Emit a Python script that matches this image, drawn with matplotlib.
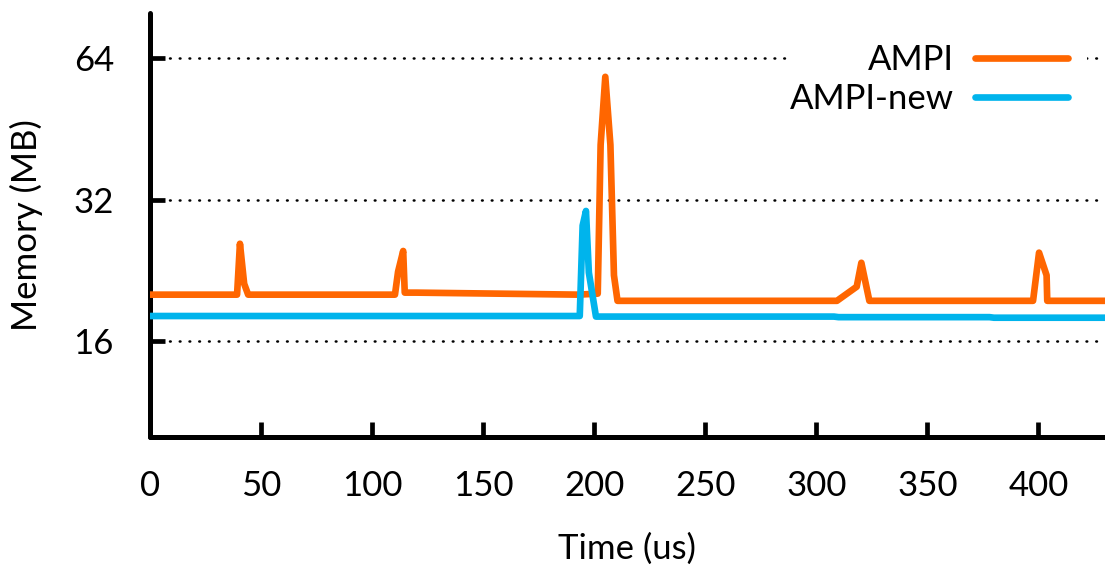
import matplotlib
matplotlib.use("Agg")
import matplotlib.pyplot as plt
from matplotlib.patches import Rectangle

plt.rcParams['font.family'] = ['Lato', 'DejaVu Sans']

# Data
t_ampi = [0, 39.2, 40.5, 42.4, 44.2, 110.3, 111.7, 114.0, 114.7, 120, 193, 201.6, 202.9,
          205.0, 207.3, 208.9, 210.5, 309.3, 318.2, 320.3, 323.9, 397.6, 400.3, 403.7, 404.0, 430]
m_ampi = [20.1, 20.1, 25.8, 21.2, 20.1, 20.1, 22.5, 24.9, 20.3, 20.3, 20.1, 20.2, 41.9,
          58.5, 41.9, 22.1, 19.5, 19.5, 20.9, 23.5, 19.5, 19.5, 24.7, 22.1, 19.5, 19.5]

t_new = [0, 193.5, 194.8, 196.3, 197.6, 200.8, 308, 310, 378, 380, 430]
m_new = [18.1, 18.1, 28.2, 30.3, 22.4, 18.05, 18.05, 18.0, 18.0, 17.95, 17.95]

x_ticks = [0, 50, 100, 150, 200, 250, 300, 350, 400]
y_ticks = [16, 32, 64]
y_ticklabels = ['16', '32', '64']

c_ampi = '#FF6600'
c_new = '#00B4EC'

fig = plt.figure(figsize=(11.05, 5.75), dpi=100)
ax = fig.add_axes([150 / 1105, 138 / 575, 955 / 1105, 424 / 575])

ax.plot(t_ampi, m_ampi, color=c_ampi, lw=4.8, label='AMPI',
        solid_joinstyle='round', solid_capstyle='round', zorder=3)
ax.plot(t_new, m_new, color=c_new, lw=4.8, label='AMPI-new',
        solid_joinstyle='round', solid_capstyle='round', zorder=3)

ax.set_yscale('log', base=2)
ax.set_ylim(10, 80)
ax.set_xlim(0, 430)
ax.set_yticks(y_ticks)
ax.set_yticklabels(y_ticklabels)
ax.minorticks_off()
ax.set_xticks(x_ticks)

ax.grid(axis='y', color='black', linestyle=(0, (0.3, 3.6)), lw=1.8,
        dash_capstyle='round')
ax.set_axisbelow(True)

# white legend background box (hides the grid line behind the key)
ax.add_patch(Rectangle((0.672, 0.748), 0.309, 0.2, transform=ax.transAxes,
                       facecolor='white', edgecolor='none', zorder=1.8))

for s in ['top', 'right']:
    ax.spines[s].set_visible(False)
for s in ['left', 'bottom']:
    ax.spines[s].set_linewidth(3.6)
    ax.spines[s].set_capstyle('round')

ax.tick_params(axis='both', direction='in', length=11, width=3.4, labelsize=25)
ax.tick_params(axis='x', pad=24)
ax.tick_params(axis='y', pad=26)

ax.set_xlabel('Time (us)', fontsize=25, labelpad=22)
ax.set_ylabel('Memory (MB)', fontsize=25, labelpad=22)

leg = ax.legend(loc='upper right', bbox_to_anchor=(0.961, 0.927), markerfirst=False,
                frameon=False, fontsize=25, handlelength=2.68, handletextpad=0.6,
                labelspacing=0.21, borderpad=0, borderaxespad=0)
leg.set_zorder(4)

fig.savefig('out.png', dpi=100)
